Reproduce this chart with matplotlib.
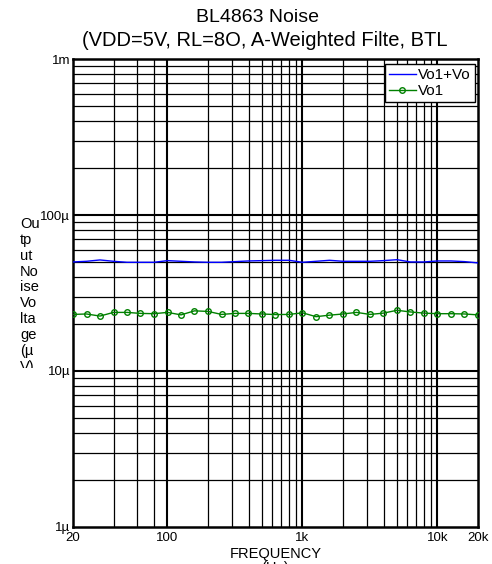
import numpy as np
import matplotlib
matplotlib.use("Agg")
import matplotlib.pyplot as plt
from matplotlib.ticker import FixedLocator, NullFormatter
from matplotlib.transforms import Bbox, TransformedBbox

plt.rcParams['font.family'] = ['Liberation Sans', 'DejaVu Sans']

# ---- data ----
freq = [20 * 10 ** (0.1 * k) for k in range(31)]  # sweep points (log-spaced, 10 per decade)
vo1_vo = [50.0, 50.5, 51.5, 50.5, 49.75, 49.75, 49.75, 51.0, 50.5, 50.0,
          49.75, 49.75, 50.25, 50.75, 51.0, 51.25, 51.25, 49.75, 50.5, 51.25,
          50.5, 50.5, 50.5, 51.0, 51.7, 50.0, 50.0, 50.75, 50.75, 50.25, 49.3]
vo1 = [23.05, 23.2, 22.5, 23.75, 23.75, 23.4, 23.3, 23.75, 22.9, 24.3,
       24.1, 23.05, 23.4, 23.4, 23.2, 23.0, 23.05, 23.6, 22.3, 22.8,
       23.2, 23.75, 23.05, 23.5, 24.5, 23.9, 23.5, 23.3, 23.3, 23.2, 22.9]
x_ticks = [20, 100, 1000, 10000, 20000]
x_ticklabels = ['20', '100', '1k', '10k', '20k']
y_ticks = [1, 10, 100, 1000]
y_ticklabels = ['1µ', '10µ', '100µ', '1m']
series_names = ['Vo1+Vo', 'Vo1']

W, H = 492, 564
fig = plt.figure(figsize=(W / 100, H / 100), dpi=100)
L, R, T, B = 73, 478, 59, 527
ax = fig.add_axes([L / W, (H - B) / H, (R - L) / W, (B - T) / H])
ax.set_xscale('log')
ax.set_yscale('log')
ax.set_xlim(20, 20000)
ax.set_ylim(1, 1000)

# grid lines
minor_x = [40, 60, 80] + [m * d for d in (100, 1000) for m in range(2, 10)]
major_x = [100, 1000, 10000]
minor_y = [m * d for d in (1, 10, 100) for m in range(2, 10)]
major_y = [10, 100]
for v in minor_x:
    ax.axvline(v, color='black', lw=0.9, zorder=1)
for v in major_x:
    ax.axvline(v, color='black', lw=1.5, zorder=1)
for v in minor_y:
    ax.axhline(v, color='black', lw=0.9, zorder=1)
for v in major_y:
    ax.axhline(v, color='black', lw=1.5, zorder=1)

ax.plot(freq, vo1_vo, color='#0000ff', lw=1.0, label=series_names[0], zorder=3)
ax.plot(freq, vo1, color='#008000', lw=1.0, marker='o', markersize=4,
        markerfacecolor='none', markeredgewidth=1.0, label=series_names[1], zorder=3)

ax.xaxis.set_major_locator(FixedLocator(x_ticks))
ax.set_xticklabels(x_ticklabels)
ax.xaxis.set_minor_locator(FixedLocator([]))
ax.xaxis.set_minor_formatter(NullFormatter())
ax.yaxis.set_major_locator(FixedLocator(y_ticks))
ax.set_yticklabels(y_ticklabels)
ax.yaxis.set_minor_locator(FixedLocator([]))
ax.yaxis.set_minor_formatter(NullFormatter())
ax.tick_params(axis='both', length=0, labelsize=9.5)
ax.tick_params(axis='x', pad=3.5)
ax.tick_params(axis='y', pad=2)
for s in ax.spines.values():
    s.set_linewidth(1.8)
    s.set_color('black')

leg = ax.legend(loc='upper right', bbox_to_anchor=(0.992, 0.989), borderaxespad=0,
                fontsize=11, frameon=True, fancybox=False, framealpha=1,
                edgecolor='black', handlelength=1.8, handletextpad=0.15,
                borderpad=0.25, labelspacing=0.15, numpoints=1)
leg.get_frame().set_linewidth(1.0)

ax.set_xlabel('FREQUENCY\n(Hz)', fontsize=10.5, labelpad=2, linespacing=1.05)

fig.text(257 / W, 1 - 18 / H, 'BL4863 Noise', ha='center', va='center', fontsize=14)
fig.text(265 / W, 1 - 40 / H, '(VDD=5V, RL=8O, A-Weighted Filte, BTL', ha='center',
         va='center', fontsize=14.5)

ylab = fig.text(20 / W, 1 - 217 / H, 'Ou\ntp\nut\nNo\nise\nVo\nlta\nge\n(µ\nV)',
                ha='left', va='top', fontsize=10.5, linespacing=1.17)
clipbox = TransformedBbox(Bbox.from_extents(0, (H - 368) / H, 70 / W, 1), fig.transFigure)
ylab.set_clip_on(True)
ylab.set_clip_box(clipbox)

fig.savefig('out.png', dpi=100)
